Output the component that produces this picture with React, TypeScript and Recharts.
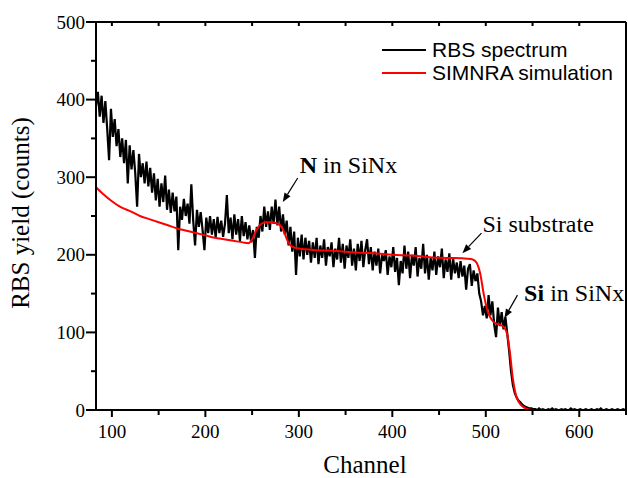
import React from 'react'
import { LineChart, Line, XAxis, YAxis, Legend, ReferenceLine, ReferenceDot } from 'recharts'

// measured RBS spectrum, one reading every 2 channels starting at channel 83
const rbsStart = 83
const rbsStep = 2
const rbsCounts = [
  392, 410, 378, 405, 370, 398, 362, 322, 388, 352,
  375, 340, 362, 326, 350, 318, 348, 292, 341, 310,
  335, 305, 262, 330, 300, 318, 292, 320, 288, 312,
  280, 305, 270, 298, 262, 292, 268, 302, 258, 284,
  254, 280, 256, 275, 206, 262, 245, 272, 250, 266,
  240, 291, 244, 212, 258, 236, 255, 232, 206, 248,
  228, 250, 226, 246, 222, 249, 228, 244, 223, 240,
  277, 228, 248, 220, 252, 226, 246, 218, 250, 224,
  242, 220, 238, 216, 232, 196, 236, 222, 250, 230,
  262, 236, 256, 232, 262, 240, 271, 238, 262, 230,
  252, 226, 244, 212, 236, 204, 230, 174, 222, 198,
  226, 194, 222, 200, 218, 190, 216, 196, 222, 188,
  212, 196, 220, 186, 210, 198, 216, 184, 208, 194,
  222, 190, 214, 182, 212, 196, 220, 186, 208, 180,
  214, 192, 218, 184, 206, 220, 188, 210, 180, 204,
  186, 208, 176, 200, 192, 206, 174, 198, 184, 210,
  178, 196, 161, 192, 176, 212, 182, 204, 170, 200,
  186, 210, 172, 196, 182, 214, 176, 200, 168, 196,
  180, 204, 174, 198, 184, 208, 170, 194, 178, 202,
  168, 196, 176, 190, 170, 192, 172, 186, 155, 182,
  188, 160, 180, 166, 176, 150, 140, 122, 134, 118,
  148, 122, 140, 110, 94, 132, 108, 126, 104, 120,
  98, 76, 50, 32, 22, 16, 12, 10, 7, 5,
  4, 3, 2, 2, 1, 1, 0, 2, 0, 1,
  0, 0, 1, 0, 2, 0, 1, 0, 0, 1,
  0, 1, 0, 0, 2, 0, 1, 0, 0, 1,
  0, 0, 1, 0, 0, 1, 0, 0, 1, 0,
  2, 0, 0, 1, 0, 0, 1, 0, 0, 1,
  0, 0, 1, 0,
]

// SIMNRA simulation curve
const simChannels = [
  83, 90, 100, 110, 120, 130, 140, 150, 160, 170, 180, 190, 200, 210, 220, 230, 240, 246,
  250, 255, 260, 265, 270, 275, 280, 284, 288, 292, 296, 300, 320, 340, 360, 380, 400,
  420, 440, 460, 480, 486, 490, 494, 498, 502, 506, 510, 515, 520, 523, 526, 529, 532,
  536, 540, 545, 550, 600, 650,
]
const simCounts = [
  287, 279, 269, 261, 256, 250, 246, 242, 238, 234, 231, 228, 225, 222, 220, 218, 216, 215,
  220, 233, 240, 242, 242, 241, 238, 230, 218, 211, 209, 208, 206, 205, 203, 202, 200,
  199, 197, 196, 195, 194, 190, 176, 148, 127, 117, 112, 110, 106, 97, 72, 40, 20,
  9, 4, 1, 0, 0, 0,
]

const xTicks = [100, 150, 200, 250, 300, 350, 400, 450, 500, 550, 600, 650]
const yTicks = [0, 50, 100, 150, 200, 250, 300, 350, 400, 450, 500]

const legendItems = [
  { name: 'RBS spectrum', color: '#000000' },
  { name: 'SIMNRA simulation', color: '#ff0000' },
]

// annotation text (channel, counts at the text baseline start) and arrows
const notes = [
  { channel: 301, counts: 305, bold: 'N', rest: ' in SiNx' },
  { channel: 496.5, counts: 229.5, bold: '', rest: 'Si substrate' },
  { channel: 541, counts: 140.5, bold: 'Si', rest: ' in SiNx' },
]
const arrows = [
  { x1: 298.8, y1: 299, x2: 282.8, y2: 268 },
  { x1: 495.4, y1: 228, x2: 475, y2: 202 },
  { x1: 533.9, y1: 148, x2: 520, y2: 118.6 },
]

const rbsData = rbsCounts.map((counts, i) => ({ channel: rbsStart + i * rbsStep, counts }))
const simData = simChannels.map((channel, i) => ({ channel, counts: simCounts[i] }))

const serif = 'Liberation Serif, Times New Roman, serif'

function BottomTick({ x, y, payload }: any) {
  const major = payload.value % 100 === 0
  return (
    <g>
      <line x1={x} y1={y} x2={x} y2={y + (major ? 7 : 5)} stroke="#000" strokeWidth={2} />
      {major && (
        <text x={x} y={y + 28} textAnchor="middle" fontFamily={serif} fontSize={19} fill="#000">
          {payload.value}
        </text>
      )}
    </g>
  )
}

function TopTick({ x, y }: any) {
  return <line x1={x} y1={y} x2={x} y2={y + 4} stroke="#000" strokeWidth={2} />
}

function LeftTick({ x, y, payload }: any) {
  const major = payload.value % 100 === 0
  return (
    <g>
      <line x1={x} y1={y} x2={x - (major ? 10 : 5)} y2={y} stroke="#000" strokeWidth={2} />
      {major && (
        <text x={x - 11} y={y + 6.5} textAnchor="end" fontFamily={serif} fontSize={19} fill="#000">
          {payload.value}
        </text>
      )}
    </g>
  )
}

function XTitle({ viewBox }: any) {
  return (
    <text x={viewBox.x + viewBox.width / 2 + 4} y={viewBox.y + 63} textAnchor="middle" fontFamily={serif} fontSize={25} fill="#000">
      Channel
    </text>
  )
}

function YTitle({ viewBox }: any) {
  const cx = viewBox.x + viewBox.width - 76
  const cy = viewBox.y + viewBox.height / 2 - 3
  return (
    <text x={cx} y={cy} transform={`rotate(-90 ${cx} ${cy})`} textAnchor="middle" dominantBaseline="central" fontFamily={serif} fontSize={25} fill="#000">
      RBS yield (counts)
    </text>
  )
}

function Arrow(props: any) {
  const { x1, y1, x2, y2 } = props
  const a = Math.atan2(y2 - y1, x2 - x1)
  const len = 9
  const w = 3.5
  const bx = x2 - len * Math.cos(a)
  const by = y2 - len * Math.sin(a)
  const pts = `${x2},${y2} ${bx + w * Math.sin(a)},${by - w * Math.cos(a)} ${bx - w * Math.sin(a)},${by + w * Math.cos(a)}`
  return (
    <g>
      <line x1={x1} y1={y1} x2={bx} y2={by} stroke="#000" strokeWidth={1.2} />
      <polygon points={pts} fill="#000" />
    </g>
  )
}

function noteLabel(bold: string, rest: string) {
  return ({ viewBox }: any) => (
    <text x={viewBox.x} y={viewBox.y} fontFamily={serif} fontSize={24} fill="#000">
      {bold && <tspan fontWeight="bold">{bold}</tspan>}
      <tspan>{rest}</tspan>
    </text>
  )
}

function SpectrumLegend() {
  return (
    <div style={{ fontFamily: 'Liberation Sans, Arial, sans-serif', fontSize: 21, lineHeight: '23px', color: '#000' }}>
      {legendItems.map((item) => (
        <div key={item.name} style={{ display: 'flex', alignItems: 'center', whiteSpace: 'nowrap' }}>
          <span style={{ display: 'inline-block', width: 44, height: 2, background: item.color, marginRight: 6 }} />
          {item.name}
        </div>
      ))}
    </div>
  )
}

export default function App() {
  return (
    <div style={{ position: 'absolute', left: 0, top: 0, background: '#fff' }}>
      <LineChart width={628} height={478} margin={{ top: 21, right: 1, bottom: 67, left: 95 }}>
        <XAxis
          dataKey="channel"
          type="number"
          domain={[83, 650]}
          allowDataOverflow
          ticks={xTicks}
          interval={0}
          height={1}
          tickSize={0}
          tickMargin={0}
          tick={<BottomTick />}
          axisLine={{ stroke: '#000', strokeWidth: 2 }}
          label={{ content: <XTitle /> }}
        />
        <XAxis
          xAxisId="top"
          orientation="top"
          dataKey="channel"
          type="number"
          domain={[83, 650]}
          allowDataOverflow
          ticks={xTicks}
          interval={0}
          height={1}
          tickSize={0}
          tickMargin={0}
          tick={<TopTick />}
          axisLine={{ stroke: '#000', strokeWidth: 2 }}
        />
        <YAxis
          type="number"
          domain={[0, 500]}
          allowDataOverflow
          ticks={yTicks}
          interval={0}
          width={1}
          tickSize={0}
          tickMargin={0}
          tick={<LeftTick />}
          axisLine={{ stroke: '#000', strokeWidth: 2 }}
          label={{ content: <YTitle /> }}
        />
        <YAxis
          yAxisId="right"
          orientation="right"
          type="number"
          domain={[0, 500]}
          width={1}
          tick={false}
          tickLine={false}
          axisLine={{ stroke: '#000', strokeWidth: 2 }}
        />
        <Legend
          layout="horizontal"
          verticalAlign="middle"
          align="center"
          content={<SpectrumLegend />}
          wrapperStyle={{ top: 38, left: 382, width: 'auto' }}
        />
        <Line
          data={rbsData}
          dataKey="counts"
          name="RBS spectrum"
          type="linear"
          stroke="#000"
          strokeWidth={2.2}
          dot={false}
          isAnimationActive={false}
        />
        <Line
          data={simData}
          dataKey="counts"
          name="SIMNRA simulation"
          type="monotone"
          stroke="#ff0000"
          strokeWidth={2}
          dot={false}
          isAnimationActive={false}
        />
        {arrows.map((a, i) => (
          <ReferenceLine
            key={'arrow' + i}
            segment={[{ x: a.x1, y: a.y1 }, { x: a.x2, y: a.y2 }]}
            shape={<Arrow />}
          />
        ))}
        {notes.map((n, i) => (
          <ReferenceDot
            key={'note' + i}
            x={n.channel}
            y={n.counts}
            r={0}
            fill="none"
            stroke="none"
            label={{ content: noteLabel(n.bold, n.rest) }}
          />
        ))}
      </LineChart>
    </div>
  )
}
